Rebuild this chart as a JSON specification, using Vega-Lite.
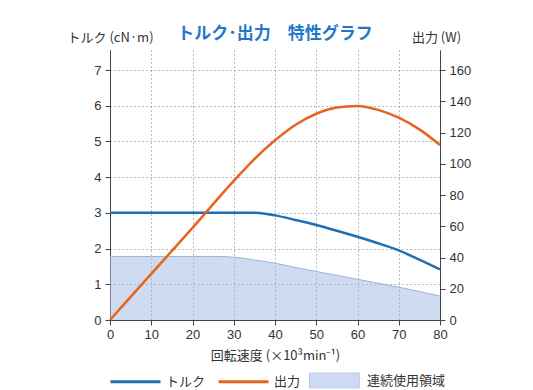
{
  "$schema": "https://vega.github.io/schema/vega-lite/v6.json",
  "autosize": {"type": "none"},
  "padding": {"left": 110, "top": 50, "right": 93, "bottom": 70},
  "width": 330,
  "height": 270,
  "background": "white",
  "config": {
    "view": {"stroke": null},
    "font": "Liberation Sans, Noto Sans CJK JP",
    "axis": {"labelFont": "Liberation Sans, Noto Sans CJK JP", "titleFont": "Noto Sans CJK JP, Liberation Sans"},
    "legend": {"labelFont": "Noto Sans CJK JP"}
  },
  "title": {
    "text": "トルク･出力\u2002\u2002特性グラフ",
    "font": "Noto Sans CJK JP",
    "fontSize": 17,
    "fontWeight": "bold",
    "color": "#1f78c8",
    "anchor": "middle",
    "frame": "group",
    "offset": 4,
    "dy": 16
  },
  "datasets": {
    "torque": [
      {"speed": 0, "value": 3.0},
      {"speed": 10, "value": 3.0},
      {"speed": 20, "value": 3.0},
      {"speed": 30, "value": 3.0},
      {"speed": 35, "value": 3.0},
      {"speed": 38, "value": 2.97},
      {"speed": 40, "value": 2.93},
      {"speed": 45, "value": 2.8},
      {"speed": 50, "value": 2.66},
      {"speed": 55, "value": 2.5},
      {"speed": 60, "value": 2.33},
      {"speed": 65, "value": 2.15},
      {"speed": 70, "value": 1.95},
      {"speed": 75, "value": 1.69},
      {"speed": 80, "value": 1.42}
    ],
    "output": [
      {"speed": 0, "value": 0},
      {"speed": 10, "value": 29.5},
      {"speed": 20, "value": 59},
      {"speed": 30, "value": 89},
      {"speed": 35, "value": 103},
      {"speed": 40, "value": 115},
      {"speed": 45, "value": 125},
      {"speed": 50, "value": 132},
      {"speed": 55, "value": 136},
      {"speed": 60, "value": 137},
      {"speed": 65, "value": 134.5},
      {"speed": 70, "value": 129.5},
      {"speed": 75, "value": 122},
      {"speed": 80, "value": 112}
    ],
    "area": [
      {"speed": 0, "value": 1.78},
      {"speed": 10, "value": 1.78},
      {"speed": 20, "value": 1.78},
      {"speed": 25, "value": 1.78},
      {"speed": 30, "value": 1.76},
      {"speed": 35, "value": 1.68},
      {"speed": 40, "value": 1.59},
      {"speed": 45, "value": 1.47},
      {"speed": 50, "value": 1.36},
      {"speed": 55, "value": 1.25},
      {"speed": 60, "value": 1.14},
      {"speed": 65, "value": 1.03},
      {"speed": 70, "value": 0.92},
      {"speed": 75, "value": 0.8},
      {"speed": 80, "value": 0.67}
    ]
  },
  "encoding": {
    "x": {
      "field": "speed",
      "type": "quantitative",
      "scale": {"domain": [0, 80], "nice": false},
      "axis": {
        "values": [0, 10, 20, 30, 40, 50, 60, 70, 80],
        "title": "回転速度 (×10³min⁻¹)",
        "titleFontSize": 13,
        "titleFontWeight": "normal",
        "titleColor": "#333",
        "titlePadding": 8,
        "labelFontSize": 13,
        "labelColor": "#333",
        "labelPadding": 3,
        "tickSize": 5,
        "tickColor": "#444",
        "domainColor": "#444",
        "grid": true,
        "gridDash": [1, 3],
        "gridColor": "#777",
        "labelFlush": false
      }
    }
  },
  "layer": [
    {
      "encoding": {
        "y": {
          "field": "value",
          "type": "quantitative",
          "scale": {"domain": [0, 7.56], "nice": false},
          "axis": {
            "values": [0, 1, 2, 3, 4, 5, 6, 7],
            "labelOverlap": false,
            "title": "トルク (cN·m)",
            "titleAngle": 0,
            "titleAlign": "center",
            "titleBaseline": "middle",
            "titleX": 0,
            "titleY": -13,
            "titleFontSize": 13,
            "titleFontWeight": "normal",
            "titleColor": "#333",
            "labelFontSize": 13,
            "labelColor": "#333",
            "labelPadding": 4,
            "tickSize": 5,
            "tickColor": "#444",
            "domainColor": "#444",
            "grid": true,
            "gridDash": [1, 3],
            "gridColor": "#777"
          }
        }
      },
      "layer": [
        {
          "data": {"name": "area"},
          "mark": {"type": "area", "fillOpacity": 0.55, "interpolate": "monotone"},
          "encoding": {
            "fill": {
              "datum": "連続使用領域",
              "type": "nominal",
              "scale": {"range": ["#a6bde6"]},
              "legend": {
                "orient": "none",
                "legendX": 199,
                "legendY": 305,
                "direction": "horizontal",
                "title": null,
                "symbolType": "M-1,-0.3H1V0.3H-1Z",
                "symbolSize": 2500,
                "symbolOpacity": 0.55,
                "symbolStrokeColor": "#8aa6d8",
                "symbolStrokeWidth": 1,
                "labelFontSize": 13,
                "labelColor": "#333",
                "labelOffset": 7,
                "padding": 0
              }
            }
          }
        },
        {
          "data": {"name": "area"},
          "mark": {"type": "line", "stroke": "#9cb3dd", "strokeWidth": 1, "interpolate": "monotone"},
          "encoding": {}
        },
        {
          "data": {"name": "torque"},
          "mark": {"type": "line", "strokeWidth": 2.5, "interpolate": "monotone"},
          "encoding": {
            "stroke": {
              "datum": "トルク",
              "type": "nominal",
              "scale": {"domain": ["トルク", "出力"], "range": ["#1f6fb5", "#e8641e"]},
              "legend": {
                "orient": "none",
                "legendX": -1,
                "legendY": 305,
                "direction": "horizontal",
                "title": null,
                "symbolType": "M-1,0H1",
                "symbolSize": 2500,
                "symbolStrokeWidth": 3,
                "labelFontSize": 13,
                "labelColor": "#333",
                "labelOffset": 4,
                "columnPadding": 6,
                "padding": 0
              }
            }
          }
        }
      ]
    },
    {
      "data": {"name": "output"},
      "mark": {"type": "line", "strokeWidth": 2.5, "interpolate": "monotone"},
      "encoding": {
        "y": {
          "field": "value",
          "type": "quantitative",
          "scale": {"domain": [0, 172.8], "nice": false},
          "axis": {
            "orient": "right",
            "values": [0, 20, 40, 60, 80, 100, 120, 140, 160],
            "labelOverlap": false,
            "title": "出力 (W)",
            "titleAngle": 0,
            "titleAlign": "center",
            "titleBaseline": "middle",
            "titleX": -4,
            "titleY": -13,
            "titleFontSize": 13,
            "titleFontWeight": "normal",
            "titleColor": "#333",
            "labelFontSize": 13,
            "labelColor": "#333",
            "labelPadding": 4,
            "tickSize": 5,
            "tickColor": "#444",
            "domainColor": "#444",
            "grid": false
          }
        },
        "stroke": {"datum": "出力", "type": "nominal"}
      }
    }
  ],
  "resolve": {"scale": {"y": "independent"}}
}
